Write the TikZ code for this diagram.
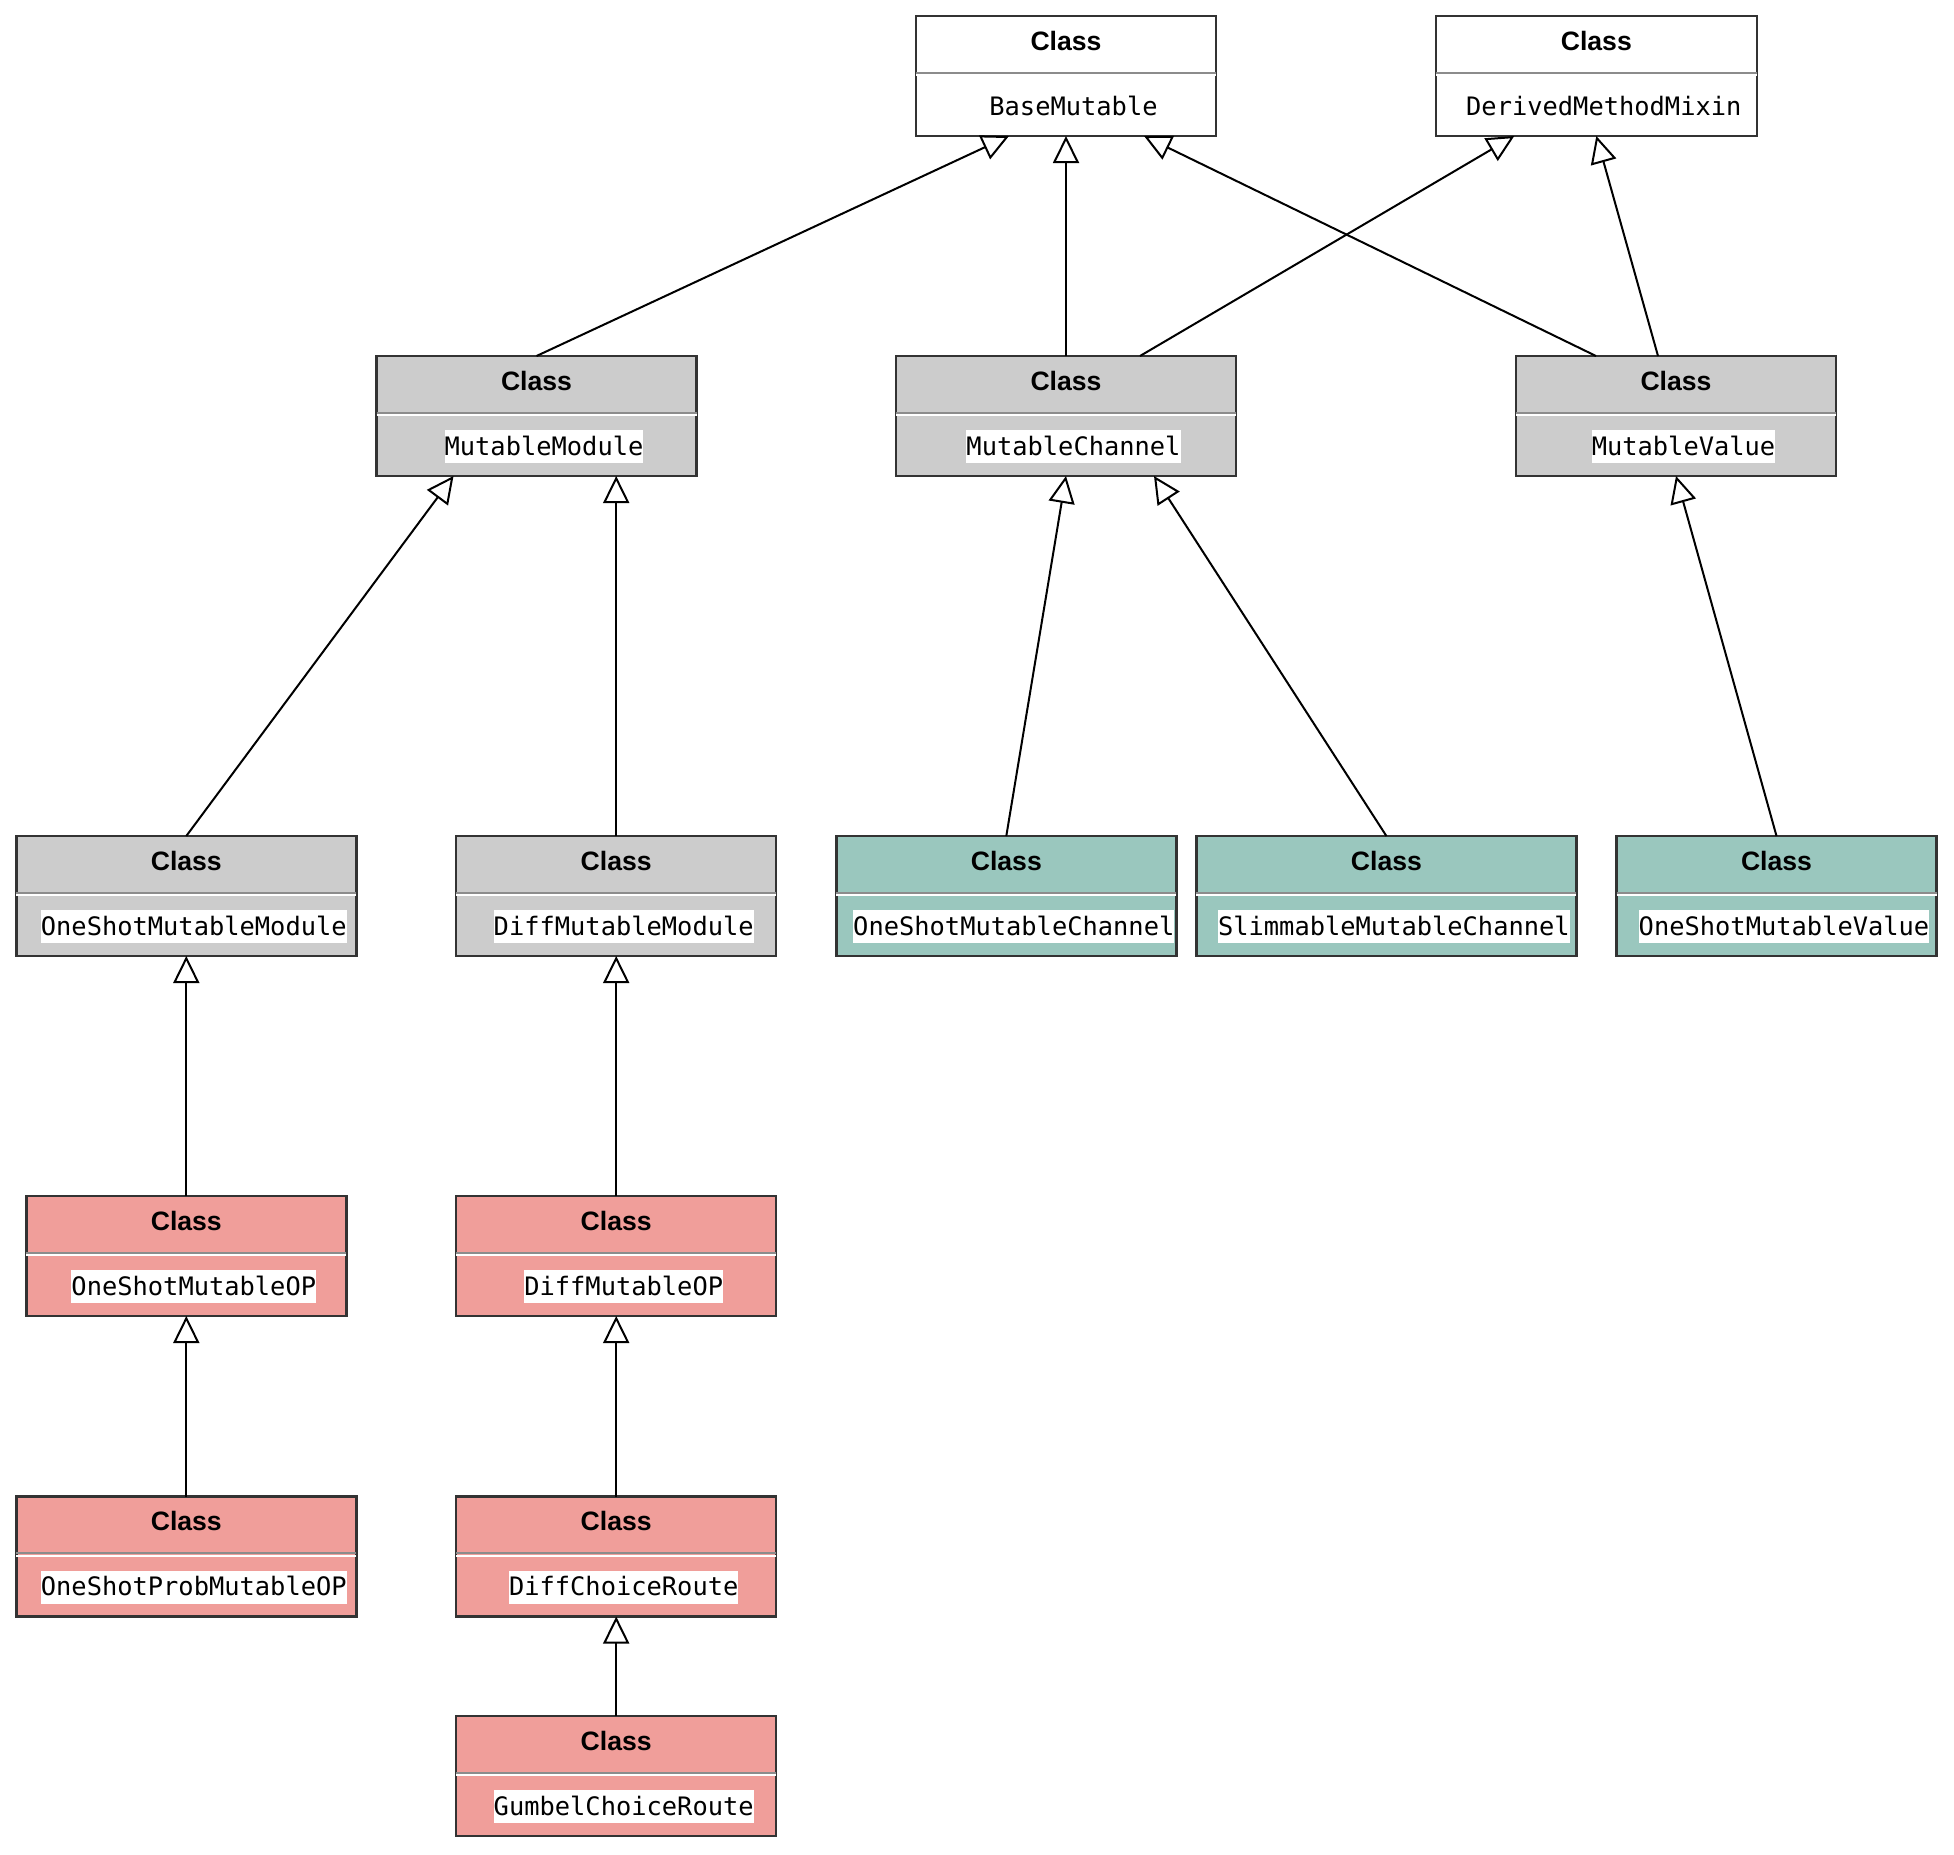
\documentclass[tikz,border=0pt]{standalone}
\usepackage{fontspec}
\usetikzlibrary{arrows.meta}
\newfontfamily\headfont{Liberation Sans}
\newfontfamily\namefont{DejaVu Sans Mono}
\definecolor{boxline}{HTML}{333333}
\definecolor{divgray}{HTML}{8C8C8C}
\definecolor{coregray}{HTML}{CCCCCC}
\definecolor{chanteal}{HTML}{9AC7BE}
\definecolor{oppink}{HTML}{F09E9A}
\tikzset{
    class box/.style={rectangle, draw=boxline, line width=1.2pt, minimum height=60pt, inner sep=0pt, outer sep=0pt},
    base class/.style={class box, fill=white},
    core class/.style={class box, fill=coregray},
    channel class/.style={class box, fill=chanteal},
    op class/.style={class box, fill=oppink},
    class head/.style={anchor=base, inner sep=0pt, font=\headfont\bfseries\fontsize{13.3}{16}\selectfont},
    class name/.style={anchor=base, fill=white, inner xsep=0pt, inner ysep=2.15pt, text height=10.3pt, text depth=1.9pt, font=\namefont\fontsize{12.7}{15}\selectfont},
    inherit/.style={draw=black, line width=1pt, -{Triangle[open, length=13.5pt, width=13pt, fill=white]}}
}
\newcommand{\classparts}[2]{%
  \draw[divgray, line width=1pt] ([yshift=-28.35pt]#1.north west) -- ([yshift=-28.35pt]#1.north east);
  \draw[white, line width=1pt] ([yshift=-29.5pt]#1.north west) -- ([yshift=-29.5pt]#1.north east);
  \node[class head] (#1-head) at ([yshift=-17pt]#1.north) {Class};
  \node[class name] (#1-name) at ([xshift=3.75pt,yshift=-49.5pt]#1.north) {#2};
}

\begin{document}
\begin{tikzpicture}[x=0.5pt, y=-0.5pt]
    \useasboundingbox (0,0) rectangle (1954,1854);

    \node[base class, minimum width=150pt] (base) at (1066,76) {};
    \node[base class, minimum width=160.5pt] (mixin) at (1596.3,76) {};
    \node[core class, minimum width=160pt] (module) at (536.5,416) {};
    \node[core class, minimum width=170pt] (channel) at (1066,416) {};
    \node[core class, minimum width=160pt] (value) at (1676,416) {};
    \node[core class, minimum width=170pt] (osmodule) at (186.3,896) {};
    \node[core class, minimum width=160pt] (diffmodule) at (616.2,896) {};
    \node[channel class, minimum width=170pt] (oschannel) at (1006.3,896) {};
    \node[channel class, minimum width=190pt] (slimchannel) at (1386.4,896) {};
    \node[channel class, minimum width=160pt] (osvalue) at (1776.5,896) {};
    \node[op class, minimum width=160pt] (osop) at (186.3,1256) {};
    \node[op class, minimum width=160pt] (diffop) at (616.2,1256) {};
    \node[op class, minimum width=170pt] (osprobop) at (186.3,1556.5) {};
    \node[op class, minimum width=160pt] (diffroute) at (616.2,1556.5) {};
    \node[op class, minimum width=160pt] (gumbelroute) at (616.2,1776) {};

    \classparts{base}{BaseMutable}
    \classparts{mixin}{DerivedMethodMixin}
    \classparts{module}{MutableModule}
    \classparts{channel}{MutableChannel}
    \classparts{value}{MutableValue}
    \classparts{osmodule}{OneShotMutableModule}
    \classparts{diffmodule}{DiffMutableModule}
    \classparts{oschannel}{OneShotMutableChannel}
    \classparts{slimchannel}{SlimmableMutableChannel}
    \classparts{osvalue}{OneShotMutableValue}
    \classparts{osop}{OneShotMutableOP}
    \classparts{diffop}{DiffMutableOP}
    \classparts{osprobop}{OneShotProbMutableOP}
    \classparts{diffroute}{DiffChoiceRoute}
    \classparts{gumbelroute}{GumbelChoiceRoute}

    \draw[inherit] (module.north) -- ([xshift=-28.5pt]base.south);
    \draw[inherit] (channel.north) -- (base.south);
    \draw[inherit] ([xshift=37pt]channel.north) -- ([xshift=-41pt]mixin.south);
    \draw[inherit] ([xshift=-40pt]value.north) -- ([xshift=39pt]base.south);
    \draw[inherit] ([xshift=-9pt]value.north) -- (mixin.south);
    \draw[inherit] (osmodule.north) -- ([xshift=-41.5pt]module.south);
    \draw[inherit] (diffmodule.north) -- (diffmodule.north |- module.south);
    \draw[inherit] (oschannel.north) -- (channel.south);
    \draw[inherit] (slimchannel.north) -- ([xshift=44pt]channel.south);
    \draw[inherit] (osvalue.north) -- (value.south);
    \draw[inherit] (osop.north) -- (osmodule.south);
    \draw[inherit] (diffop.north) -- (diffmodule.south);
    \draw[inherit] (osprobop.north) -- (osop.south);
    \draw[inherit] (diffroute.north) -- (diffop.south);
    \draw[inherit] (gumbelroute.north) -- (diffroute.south);
\end{tikzpicture}
\end{document}
